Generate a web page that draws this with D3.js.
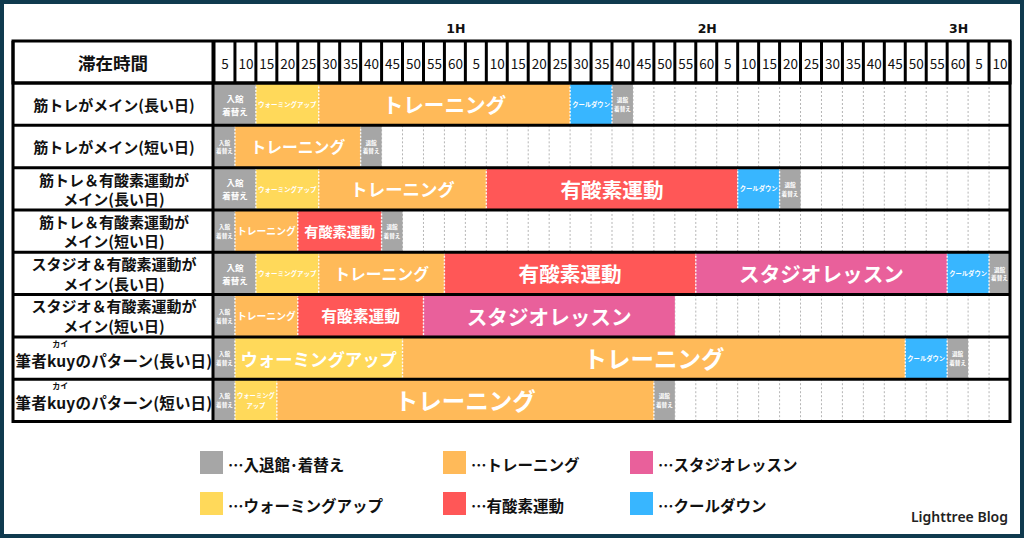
<!DOCTYPE html>
<html><head><meta charset="utf-8">
<script src="https://cdn.jsdelivr.net/npm/d3@7"></script>
<style>html,body{margin:0;padding:0;background:#0f3a4e;}svg{display:block;}</style>
</head><body><svg id="c" width="1024" height="538"></svg>
<script>
// ---- data ----
const headerTitle = "滞在時間";
const tickLabels = ["5","10","15","20","25","30","35","40","45","50","55","60",
                    "5","10","15","20","25","30","35","40","45","50","55","60",
                    "5","10","15","20","25","30","35","40","45","50","55","60",
                    "5","10"];
const hourLabels = [["1H", 60], ["2H", 120], ["3H", 180]];
const rowLabels = [
  ["筋トレがメイン(長い日)"],
  ["筋トレがメイン(短い日)"],
  ["筋トレ＆有酸素運動が", "メイン(長い日)"],
  ["筋トレ＆有酸素運動が", "メイン(短い日)"],
  ["スタジオ＆有酸素運動が", "メイン(長い日)"],
  ["スタジオ＆有酸素運動が", "メイン(短い日)"],
  ["筆者kuyのパターン(長い日)"],
  ["筆者kuyのパターン(短い日)"]
];
const rubyText = "カイ";
// [category, minutes]
const row1 = [["in",10],["warm",15],["train",60],["cool",10],["out",5]];
const row2 = [["in",5],["train",30],["out",5]];
const row3 = [["in",10],["warm",15],["train",40],["cardio",60],["cool",10],["out",5]];
const row4 = [["in",5],["train",15],["cardio",20],["out",5]];
const row5 = [["in",10],["warm",15],["train",30],["cardio",60],["studio",60],["cool",10],["out",5]];
const row6 = [["in",5],["train",15],["cardio",30],["studio",60]];
const row7 = [["in",5],["warm",40],["train",120],["cool",10],["out",5]];
const row8 = [["in",5],["warm",10],["train",90],["out",5]];
const schedules = [row1,row2,row3,row4,row5,row6,row7,row8];
const segText = {
  in: ["入館","着替え"], out: ["退館","着替え"], warm: ["ウォーミングアップ"],
  train: ["トレーニング"], cardio: ["有酸素運動"], studio: ["スタジオレッスン"], cool: ["クールダウン"]
};
const legendKeys = ["in","train","studio","warm","cardio","cool"];
const legendText = ["…入退館･着替え","…トレーニング","…スタジオレッスン","…ウォーミングアップ","…有酸素運動","…クールダウン"];
const totalMinutes = 190;

// ---- style ----
const colors = {in:"#a6a6a6", out:"#a6a6a6", warm:"#ffd95a", train:"#ffba59", cardio:"#ff5757", studio:"#e9609b", cool:"#38b6ff"};
const JP = "'Noto Sans CJK JP','Noto Sans',sans-serif";

const svg = d3.select("#c");
svg.append("rect").attr("x",0).attr("y",0).attr("width",1024).attr("height",538).attr("fill","#0f3a4e");
svg.append("rect").attr("x",4).attr("y",4).attr("width",1016).attr("height",530).attr("fill","#ffffff");

const x = d3.scaleLinear().domain([0,totalMinutes]).range([214,1010]);
const y = d3.scaleBand().domain(d3.range(schedules.length)).range([83,421.5]).padding(0);
const labL = 13, labR = 213, headTop = 41, headBot = 83;
const step = 5;
const cols = d3.range(tickLabels.length);

// dashed grid in body
const g = svg.append("g");
schedules.forEach((s,i)=>{
  cols.slice(1).forEach(c=>{
    g.append("line").attr("x1",x(c*step)).attr("x2",x(c*step))
      .attr("y1",y(i)).attr("y2",y(i)+y.bandwidth())
      .attr("stroke","#b5b5b5").attr("stroke-width",1).attr("stroke-dasharray","2,2");
  });
});

// segments
schedules.forEach((s,i)=>{
  let t = 0;
  s.forEach(([cat,dur],j)=>{
    const x0 = x(t), x1 = x(t+dur), w = x1-x0;
    const yT = y(i), h = y.bandwidth();
    g.append("rect").attr("x",x0).attr("y",yT).attr("width",w).attr("height",h).attr("fill",colors[cat]);
    let lines = segText[cat];
    if (cat==="warm" && dur<=10) lines = ["ウォーミング","アップ"];
    const n = d3.max(lines, l=>l.length);
    let fs;
    if (cat==="in"||cat==="out") fs = Math.min(8.5,(w-4)/3);
    else fs = Math.min(Math.min(23.5, 11 + dur*0.16), (w-4)/n);
    const cy = yT + h/2;
    const lh = lines.length>1 ? fs*1.55 : 0;
    const tx = g.append("text").attr("x",x0+w/2).attr("text-anchor","middle")
      .attr("font-family",JP).attr("font-weight",700).attr("font-size",fs)
      .attr("fill","#ffffff");
    lines.forEach((l,k)=>{
      tx.append("tspan").attr("x",x0+w/2)
        .attr("y", cy + (k-(lines.length-1)/2)*lh)
        .attr("dominant-baseline","central").text(l);
    });
    if (t>0) {
      g.append("line").attr("x1",x0).attr("x2",x0).attr("y1",yT).attr("y2",yT+h)
        .attr("stroke","#ffffff").attr("stroke-width",1.4).attr("stroke-dasharray","2,1.5").attr("opacity",0.9);
    }
    t += dur;
  });
});

// body borders
const bb = svg.append("g").attr("stroke","#000").attr("stroke-width",3);
schedules.forEach((s,i)=>{
  bb.append("line").attr("x1",labL).attr("x2",1011).attr("y1",y(i)).attr("y2",y(i));
});
bb.append("line").attr("x1",labL).attr("x2",1011).attr("y1",y.range()[1]).attr("y2",y.range()[1]);
[labL, labR, 1010].forEach(xx=>{
  bb.append("line").attr("x1",xx).attr("x2",xx).attr("y1",headTop).attr("y2",y.range()[1]+1.5);
});

// header
const hd = svg.append("g");
hd.append("rect").attr("x",labL).attr("y",headTop).attr("width",1010-labL).attr("height",headBot-headTop)
  .attr("fill","none").attr("stroke","#000").attr("stroke-width",3);
cols.forEach(c=>{
  const a = x(c*step), b = x((c+1)*step);
  hd.append("line").attr("x1",a).attr("x2",a).attr("y1",headTop).attr("y2",headBot).attr("stroke","#000").attr("stroke-width",3);
  hd.append("text").attr("x",(a+b)/2+0.5).attr("y",(headTop+headBot)/2+1).attr("text-anchor","middle")
    .attr("dominant-baseline","central").attr("font-family",JP).attr("font-size",13.5).attr("fill","#111")
    .text(tickLabels[c]);
});
hd.append("text").attr("x",(labL+labR)/2).attr("y",(headTop+headBot)/2).attr("text-anchor","middle")
  .attr("dominant-baseline","central").attr("font-family",JP).attr("font-weight",700).attr("font-size",17.5)
  .attr("fill","#111").text(headerTitle);
hourLabels.forEach(([lab,m])=>{
  hd.append("text").attr("x",(x(m-step)+x(m))/2+1).attr("y",33).attr("text-anchor","middle")
    .attr("font-family","'DejaVu Sans',sans-serif").attr("font-weight",700).attr("font-size",12.5)
    .attr("fill","#111").text(lab);
});

// row labels
rowLabels.forEach((lines,i)=>{
  const cy = y(i)+y.bandwidth()/2;
  const t = svg.append("text").attr("text-anchor","middle").attr("font-family",JP)
    .attr("font-weight",700).attr("font-size",15).attr("fill","#111");
  lines.forEach((l,k)=>{
    t.append("tspan").attr("x",(labL+labR)/2+1).attr("y",cy+(k-(lines.length-1)/2)*19.5)
      .attr("dominant-baseline","central").text(l);
  });
  const idx = lines[0].indexOf("kuy");
  if (idx>=0) {
    t.attr("font-size",15.5).attr("letter-spacing",0.2).selectAll("tspan").attr("y",cy+2);
    const node = t.node();
    const s0 = node.getStartPositionOfChar(idx).x, e0 = node.getEndPositionOfChar(idx+2).x;
    svg.append("text").attr("x",(s0+e0)/2-1).attr("y",cy-11).attr("text-anchor","middle")
      .attr("font-family",JP).attr("font-weight",700).attr("font-size",8).attr("fill","#111").text(rubyText);
  }
});

// legend
const lx = [200,443,630], ly = [451,492];
legendKeys.forEach((k,i)=>{
  const cx = lx[i%3], cy = ly[Math.floor(i/3)];
  svg.append("rect").attr("x",cx).attr("y",cy).attr("width",23).attr("height",23).attr("fill",colors[k]);
  svg.append("text").attr("x",cx+28).attr("y",cy+12.5).attr("dominant-baseline","central")
    .attr("font-family",JP).attr("font-weight",700).attr("font-size",15.5).attr("fill","#111").text(legendText[i]);
});
svg.append("text").attr("x",1008).attr("y",522).attr("text-anchor","end")
  .attr("font-family","'Noto Sans',sans-serif").attr("font-weight",600).attr("font-size",14)
  .attr("fill","#222").text("Lighttree Blog");
</script></body></html>
